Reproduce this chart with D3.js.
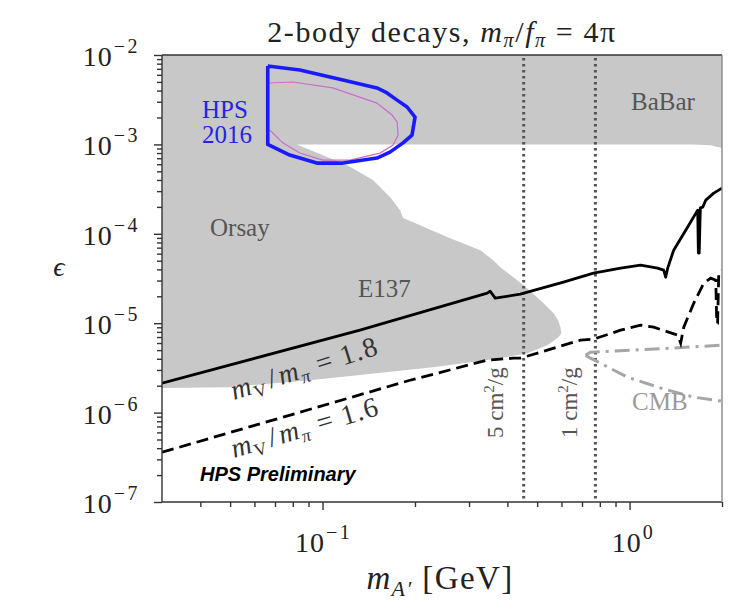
<!DOCTYPE html>
<html>
<head>
<meta charset="utf-8">
<script src="https://cdn.jsdelivr.net/npm/d3@7"></script>
<style>
  body { margin: 0; background: #fff; }
  svg { display: block; }
</style>
</head>
<body>
<svg id="chart" width="734" height="603"></svg>
<script>
// ---- data: dark-photon mass m_A' [GeV] vs kinetic mixing epsilon ----
const massMajorTicks = [0.1, 1];
const massTickExponents = ["\u22121", "0"];
const epsMajorTicks = [1e-7, 1e-6, 1e-5, 1e-4, 1e-3, 1e-2];
const epsTickExponents = ["\u22127", "\u22126", "\u22125", "\u22124", "\u22123", "\u22122"];

// combined excluded region (BaBar band on top, Orsay / E137 on the left)
const excludedRegion = [
  [0.02, 2e-2], [3, 2e-2], [3, 9.1e-4], [2, 9.1e-4], [1.84, 9.8e-4], [1.6, 1e-3],
  [0.0824, 1e-3], [0.120, 5.87e-4], [0.146, 3.99e-4], [0.1658, 2.58e-4],
  [0.1789, 1.84e-4], [0.1829, 1.50e-4], [0.2078, 1.25e-4], [0.2545, 9.18e-5],
  [0.3263, 6.56e-5], [0.3597, 5.07e-5], [0.3793, 4.23e-5], [0.418, 3.27e-5],
  [0.4508, 2.67e-5], [0.5123, 1.81e-5], [0.5649, 1.30e-5], [0.585, 1.08e-5],
  [0.5954, 9.0e-6], [0.5999, 7.7e-6], [0.5865, 6.98e-6], [0.540, 5.68e-6],
  [0.4647, 4.61e-6], [0.3793, 4.06e-6], [0.2291, 3.22e-6], [0.0909, 2.30e-6],
  [0.0488, 1.92e-6], [0.03, 1.88e-6], [0.02, 1.88e-6]
];

// HPS 2016 reach contour
const hpsContour = [
  [0.0663, 7.53e-3], [0.0843, 6.79e-3], [0.1165, 5.25e-3], [0.1504, 4.28e-3],
  [0.1622, 3.76e-3], [0.1749, 3.13e-3], [0.1885, 2.62e-3], [0.2001, 2.02e-3],
  [0.1956, 1.27e-3], [0.1829, 1.04e-3], [0.1658, 8.2e-4], [0.1504, 7.03e-4],
  [0.1165, 6.18e-4], [0.0958, 6.18e-4], [0.0782, 7.6e-4], [0.0663, 1.0e-3],
  [0.0663, 7.53e-3]
];
const hpsInnerContour = [
  [0.0673, 1.45e-3], [0.0742, 1.04e-3], [0.0843, 8.0e-4], [0.1, 6.68e-4],
  [0.1228, 6.68e-4], [0.1539, 8.0e-4], [0.1697, 9.84e-4], [0.1762, 1.27e-3],
  [0.1749, 1.78e-3], [0.1684, 2.13e-3], [0.1504, 2.90e-3], [0.108, 4.28e-3],
  [0.080, 4.99e-3], [0.0673, 4.86e-3]
];

// relic-abundance targets
const targetRatio18 = [
  [0.03, 2.13e-6], [0.1324, 8.36e-6], [0.344, 2.17e-5], [0.3516, 2.28e-5],
  [0.365, 1.905e-5], [0.4405, 2.11e-5], [0.609, 2.88e-5], [0.763, 3.63e-5],
  [0.935, 4.13e-5], [1.086, 4.46e-5], [1.234, 4.13e-5], [1.291, 3.92e-5],
  [1.311, 3.27e-5], [1.331, 4.13e-5], [1.392, 6.56e-5], [1.546, 1.19e-4],
  [1.667, 1.84e-4], [1.675, 6.1e-5], [1.686, 6.1e-5], [1.70, 1.95e-4],
  [1.731, 1.99e-4], [1.771, 2.38e-4], [1.88, 2.85e-4], [2.0, 3.24e-4]
];
const targetRatio16 = [
  [0.03, 3.6e-7], [0.1927, 2.30e-6], [0.344, 3.86e-6], [0.418, 4.06e-6],
  [0.4405, 4.06e-6], [0.692, 6.46e-6], [0.763, 6.62e-6], [0.935, 8.36e-6],
  [1.086, 9.51e-6], [1.198, 9.02e-6], [1.436, 7.34e-6], [1.467, 5.97e-6],
  [1.501, 9.02e-6], [1.618, 1.67e-5], [1.744, 2.80e-5], [1.838, 3.19e-5],
  [1.909, 3.03e-5], [1.923, 1.0e-5], [1.935, 1.0e-5], [1.952, 3.63e-5],
  [2.0, 3.92e-5]
];

// CMB bounds
const cmbUpper = [[0.719, 4.38e-6], [0.746, 4.74e-6], [1.3, 5.2e-6], [2.0, 5.68e-6]];
const cmbLower = [[0.719, 4.38e-6], [0.746, 4.06e-6], [0.985, 2.49e-6], [1.264, 1.88e-6],
                  [1.618, 1.49e-6], [2.0, 1.34e-6]];

// self-interaction cross-section lines (sigma/m)
const selfInteractionMass = [0.452, 0.774];

// ---- layout ----
const L = 162, R = 722, T = 55, B = 502;
const serif = "'Liberation Serif', 'DejaVu Serif', serif";

const svg = d3.select("#chart");
const x = d3.scaleLog().domain([0.03, 2]).range([L, R]);
const y = d3.scaleLog().domain([1e-7, 1e-2]).range([B, T]);

svg.append("defs").append("clipPath").attr("id", "plot-clip")
  .append("rect").attr("x", L).attr("y", T).attr("width", R - L).attr("height", B - T);

const plot = svg.append("g").attr("clip-path", "url(#plot-clip)");
const line = d3.line().x(d => x(d[0])).y(d => y(d[1]));

plot.append("path").datum(excludedRegion)
  .attr("d", line).attr("fill", "#c8c8c8").attr("stroke", "none");

// vertical sigma/m lines
plot.selectAll(".sigma").data(selfInteractionMass).enter().append("line")
  .attr("x1", d => x(d)).attr("x2", d => x(d))
  .attr("y1", T + 3).attr("y2", B)
  .attr("stroke", "#555").attr("stroke-width", 3)
  .attr("stroke-dasharray", "2.6,3.4");

plot.append("path").datum(cmbUpper).attr("d", line)
  .attr("fill", "none").attr("stroke", "#a6a6a6").attr("stroke-width", 3)
  .attr("stroke-dasharray", "15,6,3,6");
plot.append("path").datum(cmbLower).attr("d", line)
  .attr("fill", "none").attr("stroke", "#a6a6a6").attr("stroke-width", 3)
  .attr("stroke-dasharray", "15,6,3,6");

plot.append("path").datum(targetRatio18).attr("d", line)
  .attr("fill", "none").attr("stroke", "#000").attr("stroke-width", 2.8)
  .attr("stroke-linejoin", "round");
plot.append("path").datum(targetRatio16).attr("d", line)
  .attr("fill", "none").attr("stroke", "#000").attr("stroke-width", 2.8)
  .attr("stroke-dasharray", "12,6");

plot.append("path").datum(hpsInnerContour).attr("d", line)
  .attr("fill", "none").attr("stroke", "#cc6ccc").attr("stroke-width", 1.2);
plot.append("path").datum(hpsContour).attr("d", line)
  .attr("fill", "none").attr("stroke", "#1a1aff").attr("stroke-width", 3.6)
  .attr("stroke-linejoin", "round");

// ---- axes ----
const minorY = [];
for (let e = -7; e < -2; e++) for (let k = 2; k <= 9; k++) minorY.push(k * Math.pow(10, e));
const minorX = [0.04, 0.05, 0.06, 0.07, 0.08, 0.09, 0.2, 0.3, 0.4, 0.5, 0.6, 0.7, 0.8, 0.9, 2];

function styleAxis(g) {
  g.select(".domain").remove();
  g.selectAll("line").attr("stroke", "#333").attr("stroke-width", 1.4);
}
svg.append("g").attr("transform", `translate(${L},0)`)
  .call(d3.axisLeft(y).tickValues(epsMajorTicks).tickSize(8).tickFormat("")).call(styleAxis);
svg.append("g").attr("transform", `translate(${L},0)`)
  .call(d3.axisLeft(y).tickValues(minorY).tickSize(5).tickFormat("")).call(styleAxis);
svg.append("g").attr("transform", `translate(0,${B})`)
  .call(d3.axisBottom(x).tickValues(massMajorTicks).tickSize(8).tickFormat("")).call(styleAxis);
svg.append("g").attr("transform", `translate(0,${B})`)
  .call(d3.axisBottom(x).tickValues(minorX).tickSize(5).tickFormat("")).call(styleAxis);

// frame
svg.append("line").attr("x1", L).attr("x2", L).attr("y1", T).attr("y2", B).attr("stroke", "#333").attr("stroke-width", 1.4);
svg.append("line").attr("x1", L).attr("x2", R).attr("y1", B).attr("y2", B).attr("stroke", "#333").attr("stroke-width", 1.4);
svg.append("line").attr("x1", L).attr("x2", R).attr("y1", T).attr("y2", T).attr("stroke", "#333").attr("stroke-width", 1.4);
svg.append("line").attr("x1", R).attr("x2", R).attr("y1", T).attr("y2", B).attr("stroke", "#888").attr("stroke-width", 1.4);

// tick labels 10^n
function powerLabel(t, exponent) {
  t.append("tspan").attr("letter-spacing", 1).text("10");
  t.append("tspan").attr("dy", -13).attr("dx", 1).attr("font-size", 20)
    .attr("letter-spacing", 2.5).text(exponent);
}
epsMajorTicks.forEach((v, i) => {
  const t = svg.append("text").attr("x", 140).attr("y", y(v) + 11)
    .attr("text-anchor", "end").attr("font-family", serif).attr("font-size", 28).attr("fill", "#222");
  powerLabel(t, epsTickExponents[i]);
});
massMajorTicks.forEach((v, i) => {
  const t = svg.append("text").attr("x", x(v) + (i === 0 ? 1 : 4)).attr("y", 552)
    .attr("text-anchor", "middle").attr("font-family", serif).attr("font-size", 28).attr("fill", "#222");
  powerLabel(t, massTickExponents[i]);
});

// rich text helper
function rich(sel, parts) {
  let shift = 0;
  parts.forEach(p => {
    const s = sel.append("tspan").text(p.t);
    const want = p.sub ? p.sub : 0;
    if (want !== shift) { s.attr("dy", want - shift); shift = want; }
    if (p.i) s.attr("font-style", "italic");
    if (p.fs) s.attr("font-size", p.fs);
    if (p.dx) s.attr("dx", p.dx);
  });
  return sel;
}

// axis titles
rich(svg.append("text").attr("x", 440).attr("y", 589).attr("text-anchor", "middle")
  .attr("font-family", serif).attr("font-size", 33).attr("letter-spacing", 1.4).attr("fill", "#222"),
  [{ t: "m", i: 1 }, { t: "A\u2032", i: 1, sub: 7, fs: 22 }, { t: " [GeV]" }]);
svg.append("text").attr("x", 59).attr("y", 276).attr("text-anchor", "middle")
  .attr("font-family", serif).attr("font-size", 28).attr("font-style", "italic").attr("fill", "#222")
  .text("\u03f5");

// title
rich(svg.append("text").attr("x", 442).attr("y", 42).attr("text-anchor", "middle")
  .attr("font-family", serif).attr("font-size", 30).attr("letter-spacing", 1.6).attr("fill", "#222"),
  [{ t: "2-body decays, " }, { t: "m", i: 1 }, { t: "\u03c0", i: 1, sub: 5, fs: 20 },
   { t: "/" }, { t: "f", i: 1 }, { t: "\u03c0", i: 1, sub: 5, fs: 20 }, { t: " = 4\u03c0" }]);

// region labels
function label(txt, px, py, color, size) {
  svg.append("text").attr("x", px).attr("y", py).attr("font-family", serif)
    .attr("font-size", size || 25).attr("fill", color).text(txt);
}
label("Orsay", 210, 236, "#555");
label("E137", 358, 297, "#555");
label("BaBar", 631, 110, "#555");
label("CMB", 632, 410, "#9a9a9a");
label("HPS", 202, 118, "#2424e6");
label("2016", 202, 143, "#2424e6");

svg.append("text").attr("x", 200).attr("y", 481)
  .attr("font-family", "'Liberation Sans', Arial, sans-serif").attr("font-size", 20)
  .attr("font-weight", "bold").attr("font-style", "italic").attr("fill", "#000")
  .text("HPS Preliminary");

// slanted target labels
function slanted(px, py, angle, value) {
  const t = svg.append("text").attr("transform", `translate(${px},${py}) rotate(${angle})`)
    .attr("font-family", serif).attr("font-size", 28).attr("letter-spacing", 1.2).attr("fill", "#333");
  rich(t, [{ t: "m", i: 1 }, { t: "V", sub: 5, fs: 18 }, { t: "/", dx: 3 }, { t: "m", i: 1, dx: 2 },
           { t: "\u03c0", i: 1, sub: 5, fs: 18 }, { t: " = " + value }]);
}
slanted(234, 400, -17.5, "1.8");
slanted(234, 458, -16.5, "1.6");

// sigma/m labels, reading upward
function sigmaLabel(px, value) {
  const t = svg.append("text").attr("transform", `translate(${px},438) rotate(-90)`)
    .attr("font-family", serif).attr("font-size", 23).attr("fill", "#555");
  t.append("tspan").text(value + " cm");
  t.append("tspan").attr("dy", -9).attr("font-size", 15).text("2");
  t.append("tspan").attr("dy", 9).text("/g");
}
sigmaLabel(503, "5");
sigmaLabel(577, "1");
</script>
</body>
</html>
